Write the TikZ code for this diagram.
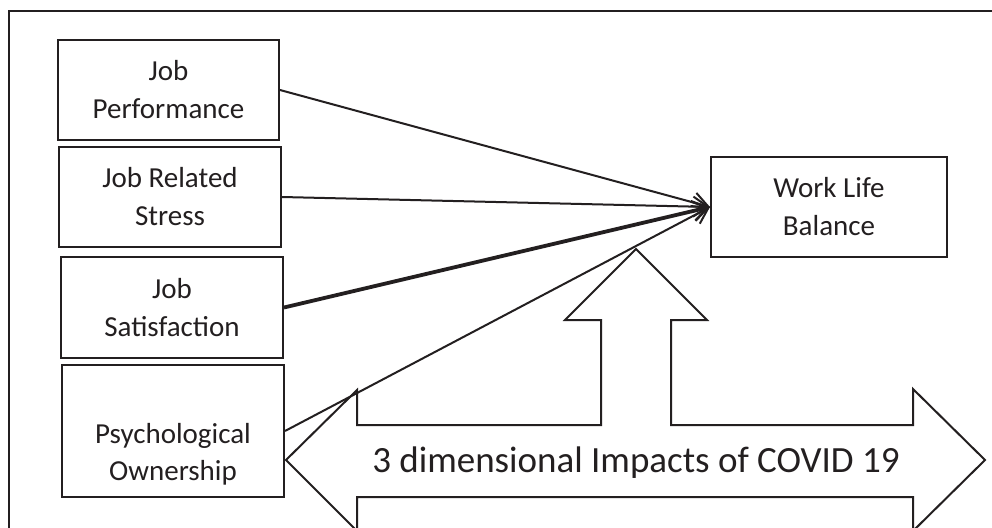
\documentclass[tikz,border=0pt]{standalone}
\usepackage{fontspec}
\setmainfont{Carlito}
\usetikzlibrary{arrows.meta}
\definecolor{ink}{HTML}{231F20}
\tikzset{
  box/.style={draw=ink, line width=2pt, rectangle, inner sep=0pt, align=center,
    font=\fontsize{29}{38}\selectfont, text=ink},
  lbl/.style={inner sep=0pt, align=center, font=\fontsize{29}{37}\selectfont, text=ink},
  conn/.style={draw=ink, line width=2pt, -{Straight Barb[length=15pt,width=20pt,line width=2pt]}},
  thickconn/.style={draw=ink, line width=3.8pt, -{Straight Barb[length=15pt,width=20pt,line width=2.6pt]}},
  outline/.style={draw=ink, line width=2pt, line join=miter}
}
\begin{document}
\begin{tikzpicture}[x=1pt,y=-1pt]
\useasboundingbox (0,0) rectangle (992,527);
\fill[white] (0,0) rectangle (992,527);
% outer frame (only top and left visible)
\coordinate (fbl) at (9,530);
\coordinate (ftl) at (9,11);
\coordinate (ftr) at (995,11);
\draw[ink, line width=2.4pt] (fbl) -- (ftl) -- (ftr);

% boxes
\node[box, minimum width=221pt, minimum height=100pt] (b1) at (168.5,90) {Job\\Performance};
\node[box, minimum width=222pt, minimum height=100pt] (b2) at (170,197) {Job Related\\Stress};
\node[box, minimum width=222pt, minimum height=101pt] (b3) at (172,307.5) {Job\\Satisfaction};
\node[box, minimum width=222pt, minimum height=132pt] (b4) at (173,431) {};
\node[lbl] (b4t) at (173,454) {Psychological\\Ownership};
\node[box, minimum width=236pt, minimum height=100pt] (wlb) at (829,207) {Work Life\\Balance};

% big three-way arrow
\begin{scope}
\clip (0,0) rectangle (992,527);
\draw[outline] (286,460) -- (357,390) -- (357,425) -- (601,425) -- (601,320)
  -- (565,320) -- (636,249) -- (707,320) -- (671,320) -- (671,425)
  -- (913,425) -- (913,389) -- (985,460) -- (913,531) -- (913,497)
  -- (357,497) -- (357,531) -- cycle;
\end{scope}
\node[inner sep=0pt, anchor=base, font=\fontsize{37}{44}\selectfont, text=ink] (covid) at (636,472) {3 dimensional Impacts of COVID 19};

% connectors
\draw[conn] (b1.east) -- (wlb.west);
\draw[conn] (b2.east) -- (wlb.west);
\draw[thickconn] (b3.east) -- (wlb.west);
\draw[conn] (b4.east) -- (wlb.west);
\end{tikzpicture}
\end{document}
